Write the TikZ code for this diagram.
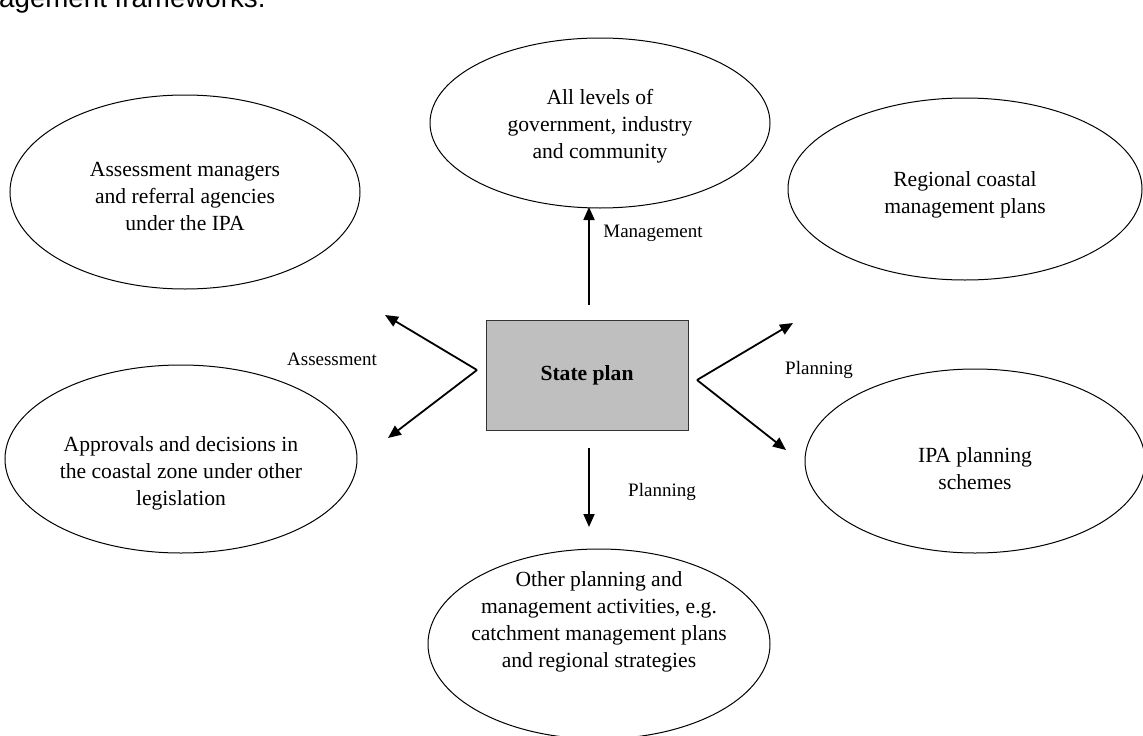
\documentclass[tikz,border=0pt]{standalone}
\usepackage{fontspec}
\setmainfont{Liberation Serif}
\newfontfamily\headfont{Liberation Sans}
\usetikzlibrary{shapes.geometric,arrows.meta}
\begin{document}
\begin{tikzpicture}[x=1pt,y=-1pt,
  bubble/.style={draw=black,line width=1pt,ellipse,inner sep=0pt},
  bubbletext/.style={align=center,inner sep=0pt,font=\fontsize{21.6}{27}\selectfont},
  statebox/.style={draw=black!80,line width=1pt,fill=black!25,minimum width=202pt,minimum height=110pt,inner sep=0pt,font=\fontsize{21.6}{27}\selectfont\bfseries},
  flow/.style={line width=1.8pt,-{Triangle[length=13pt,width=11pt]}},
  flowlabel/.style={inner sep=0pt,font=\fontsize{19}{23}\selectfont}]
\path[use as bounding box] (0,0) rectangle (1143,736);
\clip (0,0) rectangle (1143,736);

% heading line running off the top edge
\node[anchor=base west,inner sep=0pt,font=\headfont\fontsize{27.7}{32}\selectfont] (head) at (-1,7) {agement frameworks.};

% central box
\node[statebox] (state) at (587,375) {State plan};

% surrounding ellipses
\node[bubble,minimum width=340pt,minimum height=170pt] (top) at (600,123) {};
\node[bubbletext] (topT) at (600,126) {All levels of\\government, industry\\and community};

\node[bubble,minimum width=350pt,minimum height=194pt] (tl) at (185,192) {};
\node[bubbletext] (tlT) at (185,196) {Assessment managers\\and referral agencies\\under the IPA};

\node[bubble,minimum width=354pt,minimum height=182pt] (tr) at (965,189) {};
\node[bubbletext] (trT) at (965,195) {Regional coastal\\management plans};

\node[bubble,minimum width=352pt,minimum height=188pt] (bl) at (181,459) {};
\node[bubbletext] (blT) at (181,473) {Approvals and decisions in\\the coastal zone under other\\legislation};

\node[bubble,minimum width=340pt,minimum height=184pt] (br) at (975,461) {};
\node[bubbletext] (brT) at (975,469) {IPA planning\\schemes};

\node[bubble,minimum width=342pt,minimum height=190pt] (bot) at (599,644) {};
\node[bubbletext] (botT) at (599,622) {Other planning and\\management activities, e.g.\\catchment management plans\\and regional strategies};

% arrow end points
\coordinate (upFoot) at (589,305);
\coordinate (upTip) at (589,207);
\coordinate (leftFork) at (477,370);
\coordinate (leftUpTip) at (385,315);
\coordinate (leftDownTip) at (388,438);
\coordinate (rightFork) at (697,380);
\coordinate (rightUpTip) at (793,323);
\coordinate (rightDownTip) at (786,450);
\coordinate (downFoot) at (589,448);
\coordinate (downTip) at (589,527);

\draw[flow] (upFoot) -- (upTip);
\draw[flow] (leftFork) -- (leftUpTip);
\draw[flow] (leftFork) -- (leftDownTip);
\draw[flow] (rightFork) -- (rightUpTip);
\draw[flow] (rightFork) -- (rightDownTip);
\draw[flow] (downFoot) -- (downTip);

% arrow labels
\node[flowlabel] (lblManage) at (653,233) {Management};
\node[flowlabel] (lblAssess) at (332,359) {Assessment};
\node[flowlabel] (lblPlanR) at (819,370) {Planning};
\node[flowlabel] (lblPlanD) at (662,492) {Planning};
\end{tikzpicture}
\end{document}
